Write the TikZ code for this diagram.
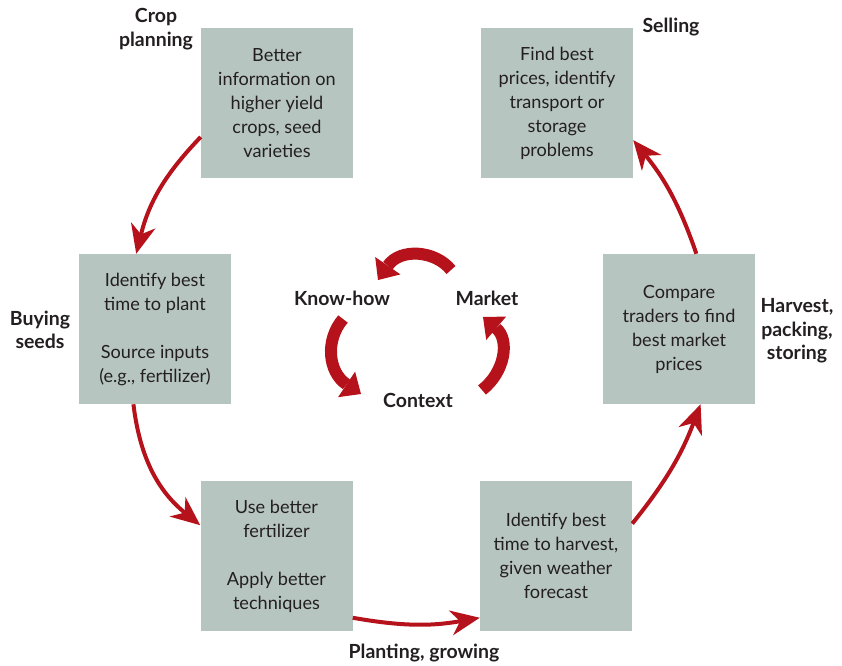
\documentclass[tikz,border=0pt]{standalone}
\usepackage{fontspec}
\setmainfont{Lato}
\usetikzlibrary{arrows.meta}

\definecolor{boxgrey}{RGB}{183,197,193}
\definecolor{arrowred}{RGB}{181,18,27}
\definecolor{textdark}{RGB}{35,31,32}

\begin{document}
\begin{tikzpicture}[x=0.75pt,y=0.75pt,yscale=-1,
	stepbox/.style={fill=boxgrey, minimum width=114pt, minimum height=112.5pt, inner sep=0pt, align=center, text=textdark, font=\fontsize{13.6}{18}\selectfont},
	stage/.style={align=center, text=textdark, inner sep=0pt, font=\fontsize{14.6}{17.6}\selectfont\bfseries},
	stagearrow/.style={draw=arrowred, line width=3pt, -{Stealth[length=22pt,width=19pt,inset=7pt,line width=0pt]}},
	cyclearrow/.style={draw=arrowred, line width=9pt, -{Triangle[length=13pt,width=23pt,line width=0pt]}}
]
	\useasboundingbox (0,0) rectangle (842,665);

	%Shape: Boxes
	\node [stepbox] (crop) at (277,103) {Better\\information on\\higher yield\\crops, seed\\varieties};
	\node [stepbox] (selling) at (557,103) {Find best\\prices, identify\\transport or\\storage\\problems};
	\node [stepbox] (buying) at (155,329) {Identify best\\time to plant\\[18pt]Source inputs\\(e.g., fertilizer)};
	\node [stepbox] (harvest) at (679,329) {Compare\\traders to find\\best market\\prices};
	\node [stepbox] (planting) at (276.5,556) {Use better\\fertilizer\\[18pt]Apply better\\techniques};
	\node [stepbox] (forecast) at (556,556) {Identify best\\time to harvest,\\given weather\\forecast};

	% Text Node
	\node [stage] (croplabel) at (156,29) {Crop\\planning};
	% Text Node
	\node [stage] (sellinglabel) at (671,27) {Selling};
	% Text Node
	\node [stage] (buyinglabel) at (40,330) {Buying\\seeds};
	% Text Node
	\node [stage] (harvestlabel) at (797,331) {Harvest,\\packing,\\storing};
	% Text Node
	\node [stage] (plantinglabel) at (424,653) {Planting, growing};
	% Text Node
	\node [stage] (knowhow) at (342,298) {Know-how};
	% Text Node
	\node [stage] (market) at (487,298) {Market};
	% Text Node
	\node [stage] (context) at (418,400) {Context};

	%Curve Lines: outer cycle
	\draw [stagearrow] (crop.204) to [bend left=15] (buying.104);
	\draw [stagearrow] (buying.254) to [bend left=22] (planting.158);
	\draw [stagearrow] (planting.321) to [bend left=10] (forecast.219);
	\draw [stagearrow] (forecast.23) to [bend left=9] (harvest.286);
	\draw [stagearrow] (harvest.77) to [bend left=10] (selling.334);

	%Curve Lines: inner cycle
	\draw [cyclearrow] (451,270) .. controls (435,250) and (400,248) .. (378,280);
	\draw [cyclearrow] (343,319) .. controls (325,340) and (328,372) .. (361,394);
	\draw [cyclearrow] (482,390) .. controls (505,372) and (510,340) .. (483,317);

\end{tikzpicture}
\end{document}
